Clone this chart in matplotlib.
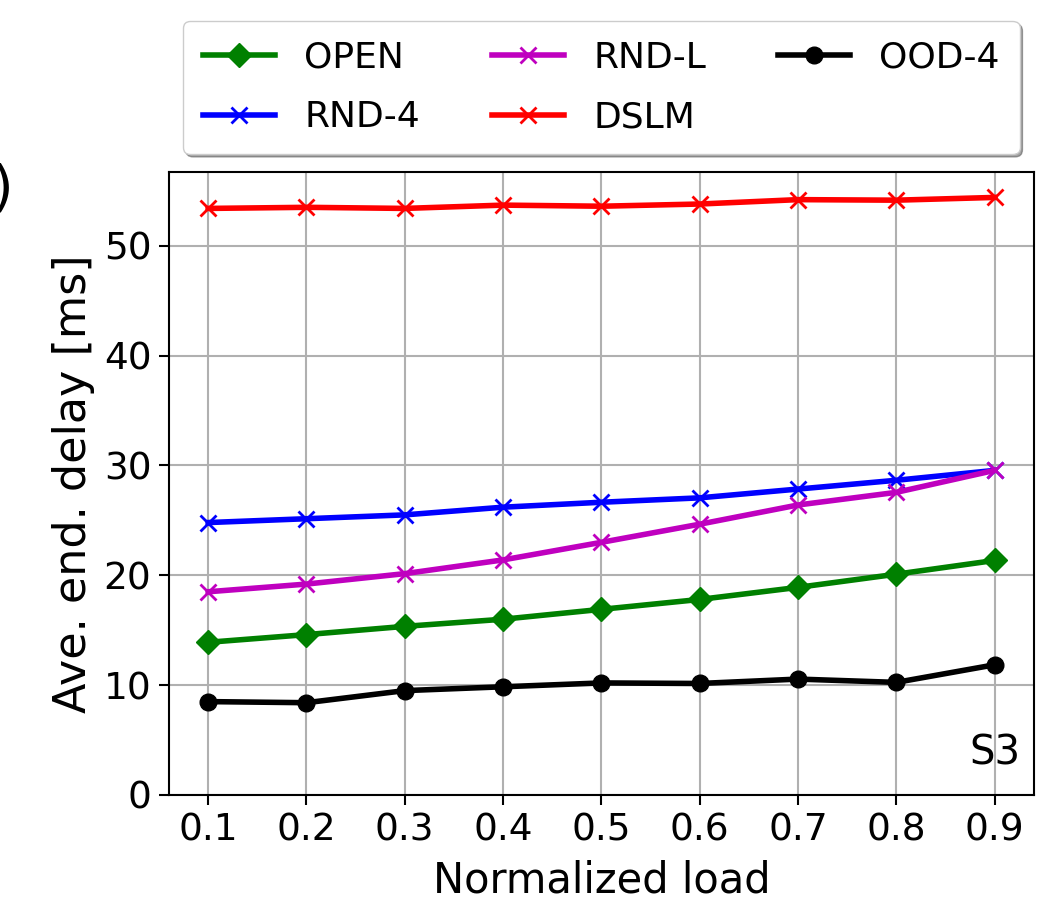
import numpy as np
import matplotlib
matplotlib.use('Agg')
import matplotlib.pyplot as plt

# normalized load on x, average end-to-end delay (ms) per scheme
load = [0.1, 0.2, 0.3, 0.4, 0.5, 0.6, 0.7, 0.8, 0.9]
open_delay = [13.9, 14.6, 15.35, 16.0, 16.9, 17.8, 18.9, 20.1, 21.35]
rnd4_delay = [24.8, 25.15, 25.5, 26.2, 26.65, 27.05, 27.85, 28.65, 29.55]
rndl_delay = [18.5, 19.2, 20.15, 21.4, 23.0, 24.65, 26.4, 27.55, 29.55]
dslm_delay = [53.4, 53.5, 53.4, 53.7, 53.6, 53.8, 54.2, 54.15, 54.4]
ood4_delay = [8.5, 8.4, 9.5, 9.85, 10.2, 10.15, 10.55, 10.25, 11.85]
yticks = [0, 10, 20, 30, 40, 50]

fig = plt.figure(figsize=(10.55, 9), dpi=100)
ax = fig.add_axes([0.160, 0.1167, 0.820, 0.692])

lw = 4
ax.plot(load, open_delay, color='green', marker='D', ms=12, lw=lw, label='OPEN')
ax.plot(load, rnd4_delay, color='blue', marker='x', ms=12, mew=2, lw=lw, label='RND-4')
ax.plot(load, rndl_delay, color='m', marker='x', ms=12, mew=2, lw=lw, label='RND-L')
ax.plot(load, dslm_delay, color='red', marker='x', ms=12, mew=2, lw=lw, label='DSLM')
ax.plot(load, ood4_delay, color='black', marker='o', ms=12, lw=lw, label='OOD-4')

ax.set_ylim(bottom=0)
ax.set_xticks(load)
ax.set_yticks(yticks)
ax.grid(True, color='#b0b0b0', lw=1.5)
ax.tick_params(labelsize=27, length=7, width=1.5, pad=5.5)
for s in ax.spines.values():
    s.set_linewidth(1.5)

ax.set_xlabel('Normalized load', fontsize=30, labelpad=8)
ax.set_ylabel('Ave. end. delay [ms]', fontsize=32, labelpad=6)
ax.text(0.985, 0.035, 'S3', transform=ax.transAxes, ha='right', va='bottom', fontsize=29)

ax.legend(loc='lower center', bbox_to_anchor=(0.5, 1.0), ncol=3, fontsize=26,
          labelspacing=0.7, borderpad=0.55, columnspacing=2.0,
          shadow=True, fancybox=True, framealpha=1)

# leftover of a panel label cut off at the page edge
fig.text(0.012, 0.79, ')', ha='right', va='center', fontsize=40)

fig.savefig('out.png', dpi=100)
